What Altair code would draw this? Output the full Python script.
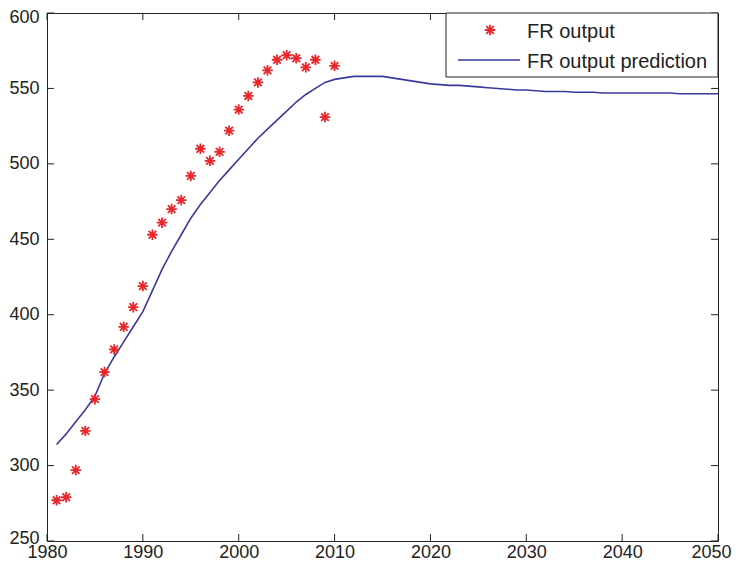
import altair as alt
import pandas as pd

# ---- data ----
years_obs = list(range(1981, 2011))
fr_output = [277, 279, 297, 323, 344, 362, 377, 392, 405, 419,
             453, 461, 470, 476, 492, 510, 502, 508, 522, 536,
             545, 554, 562, 569, 572, 570, 564, 569, 531, 565]

years_pred = list(range(1981, 2051))
fr_pred = [314, 321, 329, 337, 346, 361, 372, 382, 392, 402,
           416, 430, 442, 453, 464, 473, 481, 489, 496, 503,
           510, 517, 523, 529, 535, 541, 546, 550, 554, 556,
           557, 558, 558, 558, 558, 557, 556, 555, 554, 553,
           552.5, 552, 552, 551.5, 551, 550.5, 550, 549.5, 549, 549,
           548.5, 548, 548, 548, 547.5, 547.5, 547.5, 547, 547, 547,
           547, 547, 547, 547, 547, 546.5, 546.5, 546.5, 546.5, 546.5]

x_ticks = list(range(1980, 2051, 10))
y_ticks = list(range(250, 601, 50))
legend_labels = ["FR output", "FR output prediction"]

obs_df = pd.DataFrame({"year": years_obs, "value": fr_output})
pred_df = pd.DataFrame({"year": years_pred, "value": fr_pred})
xt_df = pd.DataFrame({"t": x_ticks})
yt_df = pd.DataFrame({"v": y_ticks})
one_df = pd.DataFrame({"k": [0]})

W, H = 671, 528
FONT = "Liberation Sans"
STAR = "M0,-1L0,1M-1,0L1,0M-0.72,-0.72L0.72,0.72M-0.72,0.72L0.72,-0.72"
RED = "#e8262b"
BLUE = "#3a3a9c"
INK = "#222222"

xscale = alt.Scale(domain=[1980, 2050], nice=False, zero=False)
yscale = alt.Scale(domain=[250, 600], nice=False, zero=False)
xaxis = alt.Axis(values=x_ticks, format="d", ticks=False, domain=False, grid=False,
                 labelFlush=False, labelFont=FONT, labelFontSize=18, labelColor=INK,
                 labelPadding=2, title=None,
                 labelOffset={"condition": {"test": "datum.value == 2050", "value": -7},
                              "value": 0})
yaxis = alt.Axis(values=y_ticks, format="d", ticks=False, domain=False, grid=False,
                 labelFlush=False, labelFont=FONT, labelFontSize=18, labelColor=INK,
                 labelPadding=8, title=None,
                 labelOffset={"expr": "datum.value == 600 ? 4 : (datum.value == 250 ? -3 : 0)"})

X = lambda f: alt.X(f, scale=xscale, axis=xaxis)
Y = lambda f: alt.Y(f, scale=yscale, axis=yaxis)

line = alt.Chart(pred_df).mark_line(color=BLUE, strokeWidth=1.6).encode(
    x=X("year:Q"), y=Y("value:Q"))

pts = alt.Chart(obs_df).mark_point(shape=STAR, size=110, color=RED, filled=False,
                                    strokeWidth=1.8, opacity=1).encode(
    x=X("year:Q"), y=Y("value:Q"))

TL = 7
tick_b = alt.Chart(xt_df).mark_rule(color=INK).encode(
    x=X("t:Q"), y=alt.value(H), y2=alt.value(H - TL))
tick_t = alt.Chart(xt_df).mark_rule(color=INK).encode(
    x=X("t:Q"), y=alt.value(0), y2=alt.value(TL))
tick_l = alt.Chart(yt_df).mark_rule(color=INK).encode(
    y=Y("v:Q"), x=alt.value(0), x2=alt.value(TL))
tick_r = alt.Chart(yt_df).mark_rule(color=INK).encode(
    y=Y("v:Q"), x=alt.value(W), x2=alt.value(W - TL))

# legend box (MATLAB style, upper right)
LX0, LX1, LY0, LY1 = 399, W, 0, 64
leg_box = alt.Chart(one_df).mark_rect(fill="white", stroke=INK, strokeWidth=1).encode(
    x=alt.value(LX0), x2=alt.value(LX1), y=alt.value(LY0), y2=alt.value(LY1))
leg_star = alt.Chart(one_df).mark_point(shape=STAR, size=110, color=RED, filled=False,
                                        strokeWidth=1.8, opacity=1).encode(
    x=alt.value(443), y=alt.value(17))
leg_line = alt.Chart(one_df).mark_rule(color=BLUE, strokeWidth=1.6).encode(
    x=alt.value(411), x2=alt.value(473), y=alt.value(47))
leg_t1 = alt.Chart(one_df).mark_text(align="left", baseline="alphabetic", font=FONT,
                                     fontSize=20, color=INK).encode(
    x=alt.value(480), y=alt.value(25), text=alt.value(legend_labels[0]))
leg_t2 = alt.Chart(one_df).mark_text(align="left", baseline="alphabetic", font=FONT,
                                     fontSize=20, color=INK).encode(
    x=alt.value(480), y=alt.value(55), text=alt.value(legend_labels[1]))

chart = alt.layer(
    line, pts, tick_b, tick_t, tick_l, tick_r,
    leg_box, leg_star, leg_line, leg_t1, leg_t2
).properties(
    width=W, height=H,
    autosize=alt.AutoSizeParams(type="none"),
    padding={"left": 39, "top": 5, "right": 14, "bottom": 20},
).configure_view(stroke=INK, strokeWidth=1)

chart.save("out.html", embed_options={"renderer": "svg", "actions": False})
